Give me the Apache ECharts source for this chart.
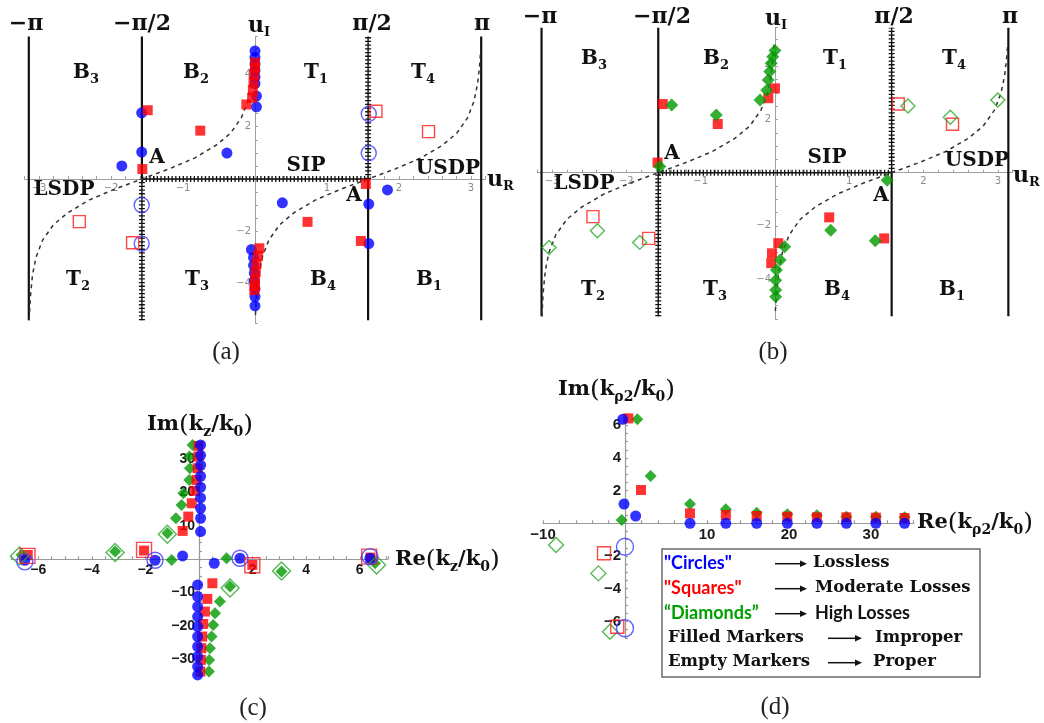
<!DOCTYPE html>
<html>
<head>
<meta charset="utf-8">
<script src="https://cdn.jsdelivr.net/npm/echarts@6/dist/echarts.min.js"></script>
<style>
	html,body{margin:0;padding:0;background:#fff;}
	#main{width:1044px;height:723px;}
</style>
</head>
<body>
<div id="main"></div>
<script type="text/javascript">
	var PI = Math.PI;

	//(a) 无损 / 中等损耗, u 平面
	var aBlueFilled = [[-1.574,2.53],[-1.574,1.03],[-1.85,0.5],[-0.39,0.99],[0.38,-0.91],[1.58,-0.96],[1.84,-0.42],[1.58,-2.47],
		[0,4.9],[0,4.65],[0,4.4],[0,4.15],[0,3.9],[0,3.65],[0.02,3.17],[0.02,2.76],
		[-0.05,-2.7],[-0.02,-3.0],[-0.02,-3.3],[-0.01,-3.6],[-0.01,-3.9],[0,-4.2],[0,-4.5],[0,-4.85]];
	var aBlueEmpty = [[-1.574,-1.0],[-1.574,-2.47],[1.58,2.49],[1.58,0.99]];
	var aRedFilled = [[-1.49,2.63],[-0.76,1.85],[-1.565,0.38],[-0.12,2.85],
		[-0.04,3.1],[-0.03,3.4],[-0.02,3.7],[-0.01,4.0],[0,4.25],[0,4.45],
		[1.54,-0.19],[0.73,-1.64],[1.47,-2.37],[0.06,-2.65],
		[0.04,-2.95],[0.02,-3.25],[0.01,-3.55],[0,-3.85],[0,-4.1],[-0.01,-4.25]];
	var aRedEmpty = [[-2.44,-1.63],[-1.70,-2.44],[1.68,2.59],[2.41,1.81]];

	//(b) 中等损耗 / 高损耗
	var bRedFilled = [[-1.51,2.58],[-0.77,1.83],[-1.58,0.38],[-0.09,2.8],[0,3.17],[0.73,-1.68],[1.47,-2.47],[0.045,-2.65],[-0.04,-3.03],[-0.05,-3.4]];
	var bRedEmpty = [[-2.45,-1.65],[-1.70,-2.47],[1.66,2.58],[2.39,1.82]];
	var bGreenFilled = [[-1.39,2.54],[-0.79,2.17],[-1.55,0.23],[-0.2,2.73],[-0.11,3.1],[-0.09,3.48],[-0.07,3.8],[-0.05,4.11],[-0.03,4.36],[0,4.59],
		[0.75,-2.16],[1.35,-2.56],[1.51,-0.28],[0.13,-2.78],[0.07,-3.28],[0.02,-3.66],[0.01,-4.04],[0.01,-4.41],[0.01,-4.66]];
	var bGreenEmpty = [[-3.04,-2.81],[-2.39,-2.18],[-1.82,-2.62],[1.79,2.51],[2.36,2.08],[3.0,2.73]];

	//SDP 虚线 (a)(b) 相同
	var sdpLeft = [[-3.137,-5.4],[-3.12,-4.53],[-3.09,-3.66],[-3.04,-2.98],[-2.95,-2.34],[-2.8,-1.75],[-2.6,-1.29],[-2.3,-0.8],[-1.95,-0.39],[-1.571,0],
		[-1.19,0.39],[-0.84,0.8],[-0.54,1.29],[-0.34,1.75],[-0.19,2.34],[-0.1,2.98],[-0.05,3.66],[-0.02,4.53],[-0.008,4.9]];
	var sdpRight = [[0.006,-5.2],[0.022,-4.53],[0.052,-3.66],[0.102,-2.98],[0.192,-2.34],[0.342,-1.75],[0.542,-1.29],[0.842,-0.8],[1.192,-0.39],[1.571,0],
		[1.951,0.39],[2.302,0.8],[2.602,1.29],[2.802,1.75],[2.952,2.34],[3.042,2.98],[3.092,3.66],[3.122,4.4],[3.132,4.85]];

	//(c) k_z/k_0 平面
	var cBlueFilled = [[0.06,34.3],[0.06,31.2],[0.06,28.2],[0.06,24.9],[0.06,21.6],[0.06,18.4],[0.06,15.3],[0.06,12.3],[0.06,8.3],
		[-0.05,-7.7],[-0.05,-11.2],[-0.05,-14.2],[-0.05,-17.2],[-0.05,-20.2],[-0.05,-23.2],[-0.05,-26.2],[-0.05,-29.2],[-0.05,-32.2],[-0.05,-34.7],
		[-0.61,1.0],[0.57,-1.2],[1.53,0.3],[-1.64,-0.3],[-6.5,-0.3],[6.38,0.3]];
	var cBlueEmpty = [[-1.64,-0.3],[1.53,0.3],[-6.5,-0.8],[6.38,0.8]];
	var cRedFilled = [[-0.61,8.5],[-0.4,12.8],[-0.27,16.8],[-0.15,20.5],[-0.09,23.8],[-0.05,27.3],[-0.03,30.8],[-0.02,34],
		[-2.05,2.6],[-6.39,1.3],[6.4,0.5],[1.99,-1.7],
		[0.5,-7.2],[0.31,-11.9],[0.22,-15.7],[0.16,-19.4],[0.12,-23.2],[0.09,-26.7],[0.07,-30.2],[0.05,-33.7]];
	var cRedEmpty = [[-2.05,2.8],[1.99,-1.8],[-6.4,1.0],[6.35,0.8]];
	var cGreenFilled = [[-0.24,34.3],[-0.36,30.8],[-0.34,27.3],[-0.36,23.8],[-0.58,19.8],[-0.65,16.3],[-0.86,12.3],[-1.18,7.8],
		[-3.13,2.3],[-1.02,-0.2],[1.03,0.3],[3.08,-3.7],[1.16,-8.2],
		[0.78,-12.7],[0.6,-16.2],[0.53,-19.7],[0.47,-23.2],[0.41,-26.7],[0.38,-30.2],[0.37,-33.7],[-6.62,1.3],[6.57,-1.2]];
	var cGreenEmpty = [[-1.18,7.5],[-3.13,2.0],[3.08,-3.5],[1.16,-8.6],[-6.7,1.0],[6.63,-1.7]];

	//(d) k_rho2/k_0 平面
	var dBlueFilled = [[-0.28,6.36],[-0.12,1.18],[1.3,0.45],[7.93,0],[12.3,0],[16.06,0],[19.8,0],[23.4,0],[27.0,0],[30.6,0],[34.1,0]];
	var dBlueEmpty = [[0,-1.43],[0,-6.42]];
	var dRedFilled = [[0.4,6.42],[1.95,2.04],[7.93,0.61],[12.3,0.51],[16.06,0.45],[19.8,0.41],[23.4,0.37],[27.0,0.37],[30.6,0.35],[34.1,0.33]];
	var dRedEmpty = [[-2.56,-1.83],[-0.94,-6.32]];
	var dGreenFilled = [[1.5,6.36],[3.13,2.9],[-0.4,0.2],[7.93,1.18],[12.3,0.86],[16.06,0.65],[19.8,0.55],[23.4,0.49],[27.0,0.41],[30.6,0.41],[34.1,0.37]];
	var dGreenEmpty = [[-8.41,-1.33],[-3.25,-3.06],[-1.83,-6.63]];

	var BLUE = '#0000ff', RED = '#ff0000', GREEN = '#009a00';

	//散点
	function pts(data, gi, symbol, size, color, filled, z){
		return {
			type:'scatter', xAxisIndex:gi, yAxisIndex:gi, data:data, symbol:symbol, symbolSize:size, z:z, silent:true,
			itemStyle: filled ? {color:color} : {color:'rgba(0,0,0,0)', borderColor:color, borderWidth:1.4}
		};
	}
	//线段
	function seg(data, gi, style, z){
		return {type:'line', xAxisIndex:gi, yAxisIndex:gi, data:data, symbol:'none', silent:true, lineStyle:style, z:z || 1};
	}
	//刻度标签
	function fmt(every){
		return function(v){
			var r = Math.round(v/every)*every;
			if(Math.abs(v-r) > 1e-6 || Math.abs(r) < 1e-9) return '';
			return r < 0 ? '\u2212' + (-r) : '' + r;
		};
	}
	//坐标轴穿过原点: 用 offset 平移
	function axis(gi, min, max, step, every, lab, line, off){
		return {
			type:'value', gridIndex:gi, min:min, max:max, interval:step, offset:off,
			splitLine:{show:false},
			axisLine:{onZero:false, lineStyle:line},
			axisTick:{show:true, inside:true, length:3, interval:0, lineStyle:line},
			axisLabel:Object.assign({interval:0, formatter:fmt(every), margin:4}, lab)
		};
	}

	var labSmall = {fontSize:10, color:'#8a8a8a', fontFamily:'DejaVu Sans'};
	var lineSmall = {color:'#a0a0a0', width:1};
	var labC = {fontSize:14, color:'#1a1a1a', fontFamily:'Liberation Sans', fontWeight:'bold'};
	var labD = {fontSize:15, color:'#1a1a1a', fontFamily:'Liberation Sans', fontWeight:'bold'};
	var lineBig = {color:'#9a9a9a', width:1.2};

	var grids = [
		{left:24.6, top:36.5, width:460.8, height:286.3},
		{left:537.2, top:27.7, width:475.5, height:291.3},
		{left:11.4, top:442.6, width:376.5, height:233.3},
		{left:543, top:413.8, width:370.6, height:224}
	];
	grids.forEach(function(g){ g.outerBoundsMode = 'none'; g.containLabel = false; });

	var xAxes = [
		axis(0, -3.2, 3.2, 0.2, 1, labSmall, lineSmall, -143.8),
		axis(1, -3.2, 3.2, 0.2, 1, labSmall, lineSmall, -146.3),
		axis(2, -7, 7.05, 0.5, 2, labC, lineBig, -116.65),
		axis(3, -10, 35.2, 2, 10, labD, lineBig, -114.5)
	];
	var yAxes = [
		axis(0, -5.5, 5.45, 0.5, 2, labSmall, lineSmall, -230.4),
		axis(1, -5.5, 5.45, 0.5, 2, labSmall, lineSmall, -237.8),
		axis(2, -35, 35, 2.5, 10, labC, lineBig, -187.6),
		axis(3, -7, 6.7, 0.5, 2, labD, lineBig, -82)
	];

	var series = [];
	//(a)(b) 分支线与 SDP
	[0,1].forEach(function(gi){
		var solid = {color:'#111', width:2.2, type:'solid'};
		var hatch = {color:'#111', width:6, type:[1.3,2.4]};
		var thin = {color:'#111', width:1.4, type:'solid'};
		series.push(seg([[-PI,-5.4],[-PI,5.45]], gi, solid));
		series.push(seg([[PI,-5.4],[PI,5.45]], gi, solid));
		series.push(seg([[-PI/2,0],[-PI/2,5.45]], gi, solid));
		series.push(seg([[PI/2,-5.4],[PI/2,0]], gi, solid));
		[[[-PI/2,-5.4],[-PI/2,0]], [[PI/2,0],[PI/2,5.45]], [[-PI/2,0],[PI/2,0]]].forEach(function(d){
			series.push(seg(d, gi, hatch));
			series.push(seg(d, gi, thin));
		});
		var dash = {color:'#333', width:1.5, type:[4,4]};
		series.push(seg(sdpLeft, gi, dash, 3));
		series.push(seg(sdpRight, gi, dash, 3));
	});

	series.push(pts(aBlueFilled, 0, 'circle', 11, BLUE, true, 4));
	series.push(pts(aRedFilled, 0, 'rect', 10, RED, true, 5));
	series.push(pts(aBlueEmpty, 0, 'circle', 15, '#3a3aff', false, 5));
	series.push(pts(aRedEmpty, 0, 'rect', 12, '#ff1a1a', false, 5));

	series.push(pts(bRedFilled, 1, 'rect', 10, RED, true, 4));
	series.push(pts(bGreenFilled, 1, 'diamond', 13, GREEN, true, 5));
	series.push(pts(bRedEmpty, 1, 'rect', 12, '#ff1a1a', false, 5));
	series.push(pts(bGreenEmpty, 1, 'diamond', 14, '#2aa82a', false, 5));

	series.push(pts(cGreenFilled, 2, 'diamond', 12, GREEN, true, 4));
	series.push(pts(cRedFilled, 2, 'rect', 10, RED, true, 5));
	series.push(pts(cBlueFilled, 2, 'circle', 11, BLUE, true, 6));
	series.push(pts(cGreenEmpty, 2, 'diamond', 18, '#2aa82a', false, 7));
	series.push(pts(cRedEmpty, 2, 'rect', 15, '#ff1a1a', false, 7));
	series.push(pts(cBlueEmpty, 2, 'circle', 16, '#3a3aff', false, 7));

	series.push(pts(dGreenFilled, 3, 'diamond', 12, GREEN, true, 4));
	series.push(pts(dRedFilled, 3, 'rect', 10, RED, true, 5));
	series.push(pts(dBlueFilled, 3, 'circle', 11, BLUE, true, 6));
	series.push(pts(dGreenEmpty, 3, 'diamond', 15, '#2aa82a', false, 7));
	series.push(pts(dRedEmpty, 3, 'rect', 13, '#ff1a1a', false, 7));
	series.push(pts(dBlueEmpty, 3, 'circle', 17, '#3a3aff', false, 7));

	//文字
	var serif = 'DejaVu Serif';
	var rich = {
		m:{fontFamily:serif, fontWeight:'bold', fontSize:20, lineHeight:26, fill:'#111'},
		t:{fontFamily:serif, fontWeight:'bold', fontSize:22, lineHeight:26, fill:'#111'},
		s:{fontFamily:serif, fontWeight:'bold', fontSize:13, lineHeight:13, verticalAlign:'bottom', fill:'#111'},
		x:{fontFamily:serif, fontWeight:'bold', fontSize:21, lineHeight:28, fill:'#111'},
		xs:{fontFamily:serif, fontWeight:'bold', fontSize:14, lineHeight:14, verticalAlign:'bottom', fill:'#111'},
		p:{fontFamily:serif, fontSize:25, lineHeight:28, fill:'#111'}
	};
	var graphic = [];
	function txt(x, y, text, align){
		graphic.push({type:'text', x:x, y:y, z:100, silent:true, style:{
			text:text, rich:rich, align:align || 'center', verticalAlign:'middle',
			textAlign:align || 'center', textVerticalAlign:'middle'
		}});
	}
	function plain(x, y, text, font, color, align){
		graphic.push({type:'text', x:x, y:y, z:100, silent:true, style:{
			text:text, font:font, fill:color || '#111', align:align || 'left', verticalAlign:'middle',
			textAlign:align || 'left', textVerticalAlign:'middle'
		}});
	}

	//(a)
	txt(26,24,'{t|\u2212\u03c0}'); txt(142,24,'{t|\u2212\u03c0/2}'); txt(259,26,'{t|u}{s|I}'); txt(372,24,'{t|\u03c0/2}'); txt(482,24,'{t|\u03c0}');
	txt(86,73,'{m|B}{s|3}'); txt(196,73,'{m|B}{s|2}'); txt(316,73,'{m|T}{s|1}'); txt(423,73,'{m|T}{s|4}');
	txt(78,280,'{m|T}{s|2}'); txt(197,280,'{m|T}{s|3}'); txt(323,280,'{m|B}{s|4}'); txt(429,280,'{m|B}{s|1}');
	txt(157,158,'{m|A}'); txt(354,196,'{m|A}'); txt(306,166,'{m|SIP}'); txt(64,190,'{m|LSDP}'); txt(448,169,'{m|USDP}');
	txt(487,180,'{t|u}{s|R}','left');
	//(b)
	txt(540,17,'{t|\u2212\u03c0}'); txt(662,17,'{t|\u2212\u03c0/2}'); txt(776,19,'{t|u}{s|I}'); txt(894,17,'{t|\u03c0/2}'); txt(1010,17,'{t|\u03c0}');
	txt(594,59,'{m|B}{s|3}'); txt(716,59,'{m|B}{s|2}'); txt(835,59,'{m|T}{s|1}'); txt(954,59,'{m|T}{s|4}');
	txt(593,290,'{m|T}{s|2}'); txt(715,290,'{m|T}{s|3}'); txt(837,290,'{m|B}{s|4}'); txt(952,290,'{m|B}{s|1}');
	txt(672,154,'{m|A}'); txt(881,196,'{m|A}'); txt(827,158,'{m|SIP}'); txt(584,184,'{m|LSDP}'); txt(977,161,'{m|USDP}');
	txt(1013,176,'{t|u}{s|R}','left');
	//(c)(d) 轴名
	txt(200,425,'{x|Im}{p|(}{x|k}{xs|z}{x|/k}{xs|0}{p|)}');
	txt(395,560,'{x|Re}{p|(}{x|k}{xs|z}{x|/k}{xs|0}{p|)}','left');
	txt(558,390,'{x|Im}{p|(}{x|k}{xs|\u03c12}{x|/k}{xs|0}{p|)}','left');
	txt(917,523,'{x|Re}{p|(}{x|k}{xs|\u03c12}{x|/k}{xs|0}{p|)}','left');
	//图注
	var cap = '25px "Liberation Serif"';
	plain(226,352,'(a)',cap,'#222','center'); plain(773,352,'(b)',cap,'#222','center');
	plain(253,708,'(c)',cap,'#222','center'); plain(775,707,'(d)',cap,'#222','center');

	//图例框
	graphic.push({type:'rect', z:90, silent:true, shape:{x:662, y:549, width:318, height:128},
		style:{fill:'#fff', stroke:'#6a6a6a', lineWidth:1.5}});
	var sans = 'bold 18px Lato';
	var serB = 'bold 16.5px "DejaVu Serif"';
	var legY = [562.7, 587.7, 612.7, 637.3, 661.7];
	plain(664,legY[0],'"Circles"',sans,BLUE);
	plain(664,legY[1],'"Squares"',sans,RED);
	plain(664,legY[2],'\u201cDiamonds\u201d',sans,'#00a000');
	plain(668,legY[3],'Filled Markers',serB);
	plain(668,legY[4],'Empty Markers',serB);
	plain(813,legY[0],'Lossless',serB);
	plain(815,legY[1],'Moderate Losses',serB);
	plain(815,legY[2],'High Losses','bold 18px Lato');
	plain(875,legY[3],'Improper',serB);
	plain(873,legY[4],'Proper',serB);
	function arrow(x1, x2, y){
		graphic.push({type:'line', z:100, silent:true, shape:{x1:x1, y1:y, x2:x2-6, y2:y}, style:{stroke:'#111', lineWidth:1.5}});
		graphic.push({type:'polygon', z:100, silent:true, shape:{points:[[x2-7,y-3.2],[x2,y],[x2-7,y+3.2]]}, style:{fill:'#111'}});
	}
	arrow(775,807,legY[0]+1); arrow(775,807,legY[1]+1); arrow(775,807,legY[2]+1);
	arrow(828,862,legY[3]+1); arrow(828,862,legY[4]+1);

	var myChart = echarts.init(document.getElementById('main'), null, {renderer:'canvas'});
	myChart.setOption({
		animation:false,
		backgroundColor:'#fff',
		grid:grids,
		xAxis:xAxes,
		yAxis:yAxes,
		series:series,
		graphic:graphic
	});
</script>
</body>
</html>
